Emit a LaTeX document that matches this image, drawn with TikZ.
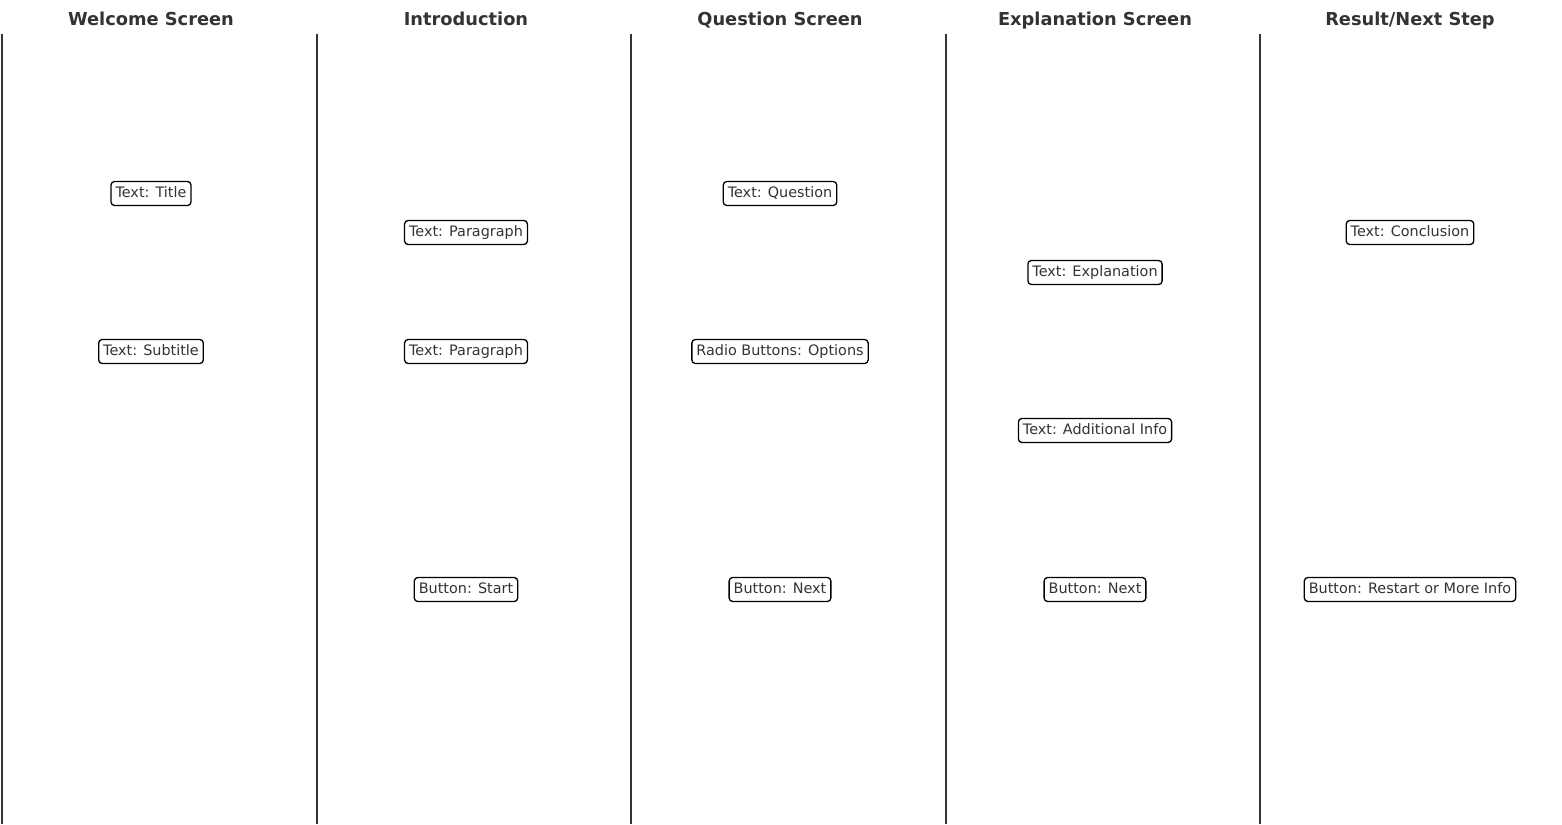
\documentclass[tikz,border=0pt]{standalone}
\usepackage{fontspec}
\setmainfont{DejaVu Sans}
\definecolor{txt}{HTML}{333333}
\begin{document}
\begin{tikzpicture}[x=1pt,y=-1pt,
  lane/.style={draw=txt,line width=1.3pt},
  head/.style={font=\fontsize{17.8}{20}\selectfont\bfseries,text=txt,anchor=base,inner sep=0pt},
  item/.style={draw=black,line width=1.3pt,rounded corners=3.5pt,fill=white,text=txt,
    font=\fontsize{14.4}{16}\selectfont,inner xsep=4.5pt,text height=10.8pt,text depth=3.2pt,
    inner ysep=5pt,yshift=-1.5pt}]
\useasboundingbox (0,0) rectangle (1562,824);
% column lines
\coordinate (l1t) at (2,34);   \coordinate (l1b) at (2,824);
\coordinate (l2t) at (317,34); \coordinate (l2b) at (317,824);
\coordinate (l3t) at (631,34); \coordinate (l3b) at (631,824);
\coordinate (l4t) at (946,34); \coordinate (l4b) at (946,824);
\coordinate (l5t) at (1260,34);\coordinate (l5b) at (1260,824);
\draw[lane] (l1t) -- (l1b);
\draw[lane] (l2t) -- (l2b);
\draw[lane] (l3t) -- (l3b);
\draw[lane] (l4t) -- (l4b);
\draw[lane] (l5t) -- (l5b);
% headers
\node[head] (h1) at (151,26) {Welcome Screen};
\node[head] (h2) at (466,26) {Introduction};
\node[head] (h3) at (780,26) {Question Screen};
\node[head] (h4) at (1095,26) {Explanation Screen};
\node[head] (h5) at (1410,26) {Result/Next Step};
% items
\node[item] (a1) at (151,192) {Text: Title};
\node[item] (a2) at (151,350) {Text: Subtitle};
\node[item] (b1) at (466,231) {Text: Paragraph};
\node[item] (b2) at (466,350) {Text: Paragraph};
\node[item] (b3) at (466,588) {Button: Start};
\node[item] (c1) at (780,192) {Text: Question};
\node[item] (c2) at (780,350) {Radio Buttons: Options};
\node[item] (c3) at (780,588) {Button: Next};
\node[item] (d1) at (1095,271) {Text: Explanation};
\node[item] (d2) at (1095,429) {Text: Additional Info};
\node[item] (d3) at (1095,588) {Button: Next};
\node[item] (e1) at (1410,231) {Text: Conclusion};
\node[item] (e2) at (1410,588) {Button: Restart or More Info};
\end{tikzpicture}
\end{document}
